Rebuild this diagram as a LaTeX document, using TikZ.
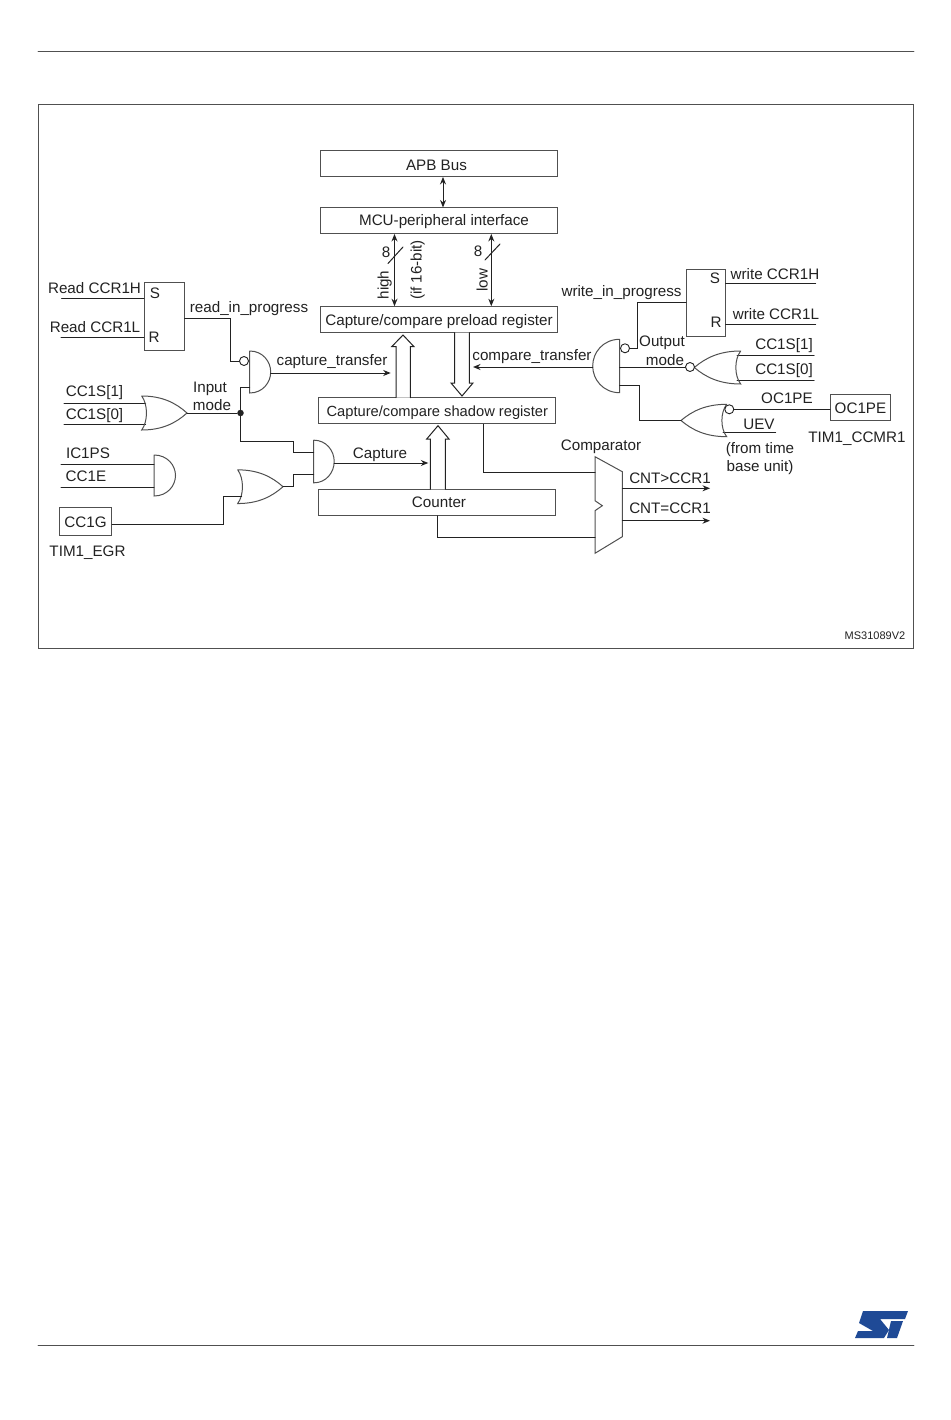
\documentclass[tikz,border=0pt]{standalone}
\usepackage{fontspec}
\setmainfont{Liberation Sans}
\usetikzlibrary{arrows.meta}
\definecolor{ink}{HTML}{222222}
\definecolor{edge}{HTML}{505050}
\definecolor{stblue}{HTML}{1F4A96}
\tikzset{
  box/.style={draw=edge,line width=1pt,inner sep=0pt,text=ink,text height=12pt,text depth=0pt},
  lbl/.style={inner sep=0pt,text=ink,text height=11pt,text depth=0pt},
  wire/.style={draw=ink,line width=1pt},
  gateline/.style={draw=edge,line width=1pt},
  bubble/.style={circle,draw=ink,line width=0.9pt,fill=white,inner sep=0pt,minimum size=9pt},
  pics/andg/.style={code={
    \draw[gateline] (0,-0.5) -- (0,0.5) .. controls (0.62,0.5) and (1,0.25) .. (1,0) .. controls (1,-0.25) and (0.62,-0.5) .. (0,-0.5);
    \coordinate (-base) at (0,0);
    \coordinate (-out) at (1,0);
  }},
  pics/org/.style={code={
    \draw[gateline] (0,-0.5) .. controls (0.14,-0.25) and (0.14,0.25) .. (0,0.5) .. controls (0.45,0.5) and (0.75,0.3) .. (1,0) .. controls (0.75,-0.3) and (0.45,-0.5) .. (0,-0.5);
    \coordinate (-out) at (1,0);
  }},
}
\begin{document}
\begin{tikzpicture}[x=1pt,y=-1pt,>={Stealth[length=7.5pt,width=6pt]},font=\fontsize{15.2}{18}\selectfont,line cap=round]
\useasboundingbox (0,0) rectangle (950,1420);
\fill[white] (0,0) rectangle (950,1420);
\draw[edge,line width=0.9pt] (38,51) -- (914,51);
\draw[edge,line width=0.9pt] (38,1345) -- (914,1345);
\draw[edge,line width=1pt] (38.5,105) rectangle (913,648);
\node[lbl,font=\fontsize{11}{13}\selectfont,text height=8pt] (drawno) at (875,635) {MS31089V2};
\fill[stblue] (863,1311) -- (908,1311) -- (905,1319) -- (880,1319) -- (889,1330) -- (884,1338) -- (855,1338) -- (858,1331) -- (873,1331) -- (859,1323) -- cycle;
\fill[stblue] (891,1321) -- (903,1321) -- (897,1338) -- (887,1338) -- cycle;
% register column
\node[box,minimum width=237pt,minimum height=25.5pt] (apb) at (439,163.7) {};
\node[lbl] (apbtxt) at (436.5,165) {APB Bus};
\node[box,minimum width=237pt,minimum height=25.5pt] (mcu) at (439,220.7) {};
\node[lbl] (mcutxt) at (444,220) {MCU-peripheral interface};
\node[box,minimum width=237pt,minimum height=26pt] (preload) at (439,319.7) {Capture/compare preload register};
\node[box,minimum width=237.3pt,minimum height=26.3pt,font=\fontsize{14.7}{18}\selectfont] (shadow) at (437.3,410.8) {Capture/compare shadow register};
\node[box,minimum width=237.3pt,minimum height=26pt] (counter) at (437.3,502.3) {};
\node[lbl] (countertxt) at (439,502) {Counter};
\coordinate (apbx) at (443,0);
\coordinate (highx) at (394.5,0);
\coordinate (lowx) at (491.3,0);
\draw[wire,<->] (apb.south -| apbx) -- (mcu.north -| apbx);
\draw[wire,<->] (mcu.south -| highx) -- (preload.north -| highx);
\draw[wire,<->] (mcu.south -| lowx) -- (preload.north -| lowx);
\draw[wire] (388,263.5) -- (403,247);
\draw[wire] (485,260) -- (500,244);
\node[lbl] (eighthigh) at (386,252) {8};
\node[lbl] (eightlow) at (478,251) {8};
\node[lbl,rotate=90] (high) at (383,285) {high};
\node[lbl,rotate=90] (ifbit) at (416,270) {(if 16-bit)};
\node[lbl,rotate=90] (low) at (482,280) {low};
\draw[wire,fill=white] (396,397.7) -- (396,346.7) -- (391.7,346.7) -- (403,335) -- (414,346.7) -- (410.3,346.7) -- (410.3,397.7);
\draw[wire,fill=white] (454.7,332.7) -- (454.7,383) -- (451,383) -- (462,396) -- (473,383) -- (469.3,383) -- (469.3,332.7);
\draw[wire,fill=white] (430.3,489.3) -- (430.3,439) -- (426.7,439) -- (438,425.7) -- (449,439) -- (445.3,439) -- (445.3,489.3);
% read side
\node[box,minimum width=39.7pt,minimum height=67pt] (srread) at (164.2,316.5) {};
\node[lbl] (sread) at (155,293) {S};
\node[lbl] (rread) at (154,337) {R};
\coordinate (rdh) at (61.7,299);
\coordinate (rdl) at (61,337);
\draw[wire] (rdh) -- (rdh -| srread.west);
\draw[wire] (rdl) -- (rdl -| srread.west);
\node[lbl] (rdhtxt) at (94.5,288) {Read CCR1H};
\node[lbl] (rdltxt) at (95,327) {Read CCR1L};
\node[lbl] (riptxt) at (249,307) {read\_in\_progress};
\pic[xscale=21,yscale=42] (gatecap) at (249.7,372) {andg};
\coordinate (ripv) at (230,318);
\node[bubble] (bubcap) at (244,361) {};
\draw[wire] (srread.east |- ripv) -- (ripv) |- (bubcap.west);
\coordinate (capend) at (390.7,373);
\draw[wire,->] (gatecap-out |- capend) -- (capend);
\node[lbl] (captxt) at (332,360) {capture\_transfer};
% input mode
\coordinate (cc1a) at (64,403);
\coordinate (cc0a) at (64,424);
\draw[wire] (cc1a) -- (145.7,403);
\draw[wire] (cc0a) -- (145.7,424);
\pic[xscale=45.3,yscale=34] (gateinmode) at (141.7,413) {org};
\node[lbl] (cc1atxt) at (94.5,391) {CC1S[1]};
\node[lbl] (cc0atxt) at (94.5,414) {CC1S[0]};
\node[lbl] (intxta) at (210,387) {Input};
\node[lbl] (intxtb) at (212,405) {mode};
\node[circle,fill=ink,inner sep=0pt,minimum size=6.5pt] (jct) at (240.5,413) {};
\draw[wire] (gateinmode-out) -- (jct);
\coordinate (jcttop) at (249.7,387);
\draw[wire] (jct) |- (jcttop);
% capture
\pic[xscale=20.5,yscale=42.7] (gatecapt) at (313.7,461.5) {andg};
\pic[xscale=45.3,yscale=33.7] (gateor) at (237.7,486.7) {org};
\pic[xscale=21.5,yscale=41] (gateic) at (154,475.5) {andg};
\coordinate (ica) at (61,464);
\coordinate (ccea) at (61,487);
\draw[wire] (ica) -- (ica -| gateic-base);
\draw[wire] (ccea) -- (ccea -| gateic-base);
\node[lbl] (icatxt) at (88,453) {IC1PS};
\node[lbl] (ccetxt) at (86,476) {CC1E};
\coordinate (capv) at (293.5,441);
\coordinate (capa) at (313.7,452);
\coordinate (capb) at (313.7,474);
\coordinate (orv) at (293.5,486.7);
\draw[wire] (jct) |- (capv) |- (capa);
\draw[wire] (gateor-out) -- (orv) |- (capb);
\node[box,minimum width=52.4pt,minimum height=27.7pt] (cc1g) at (85.5,521.8) {CC1G};
\node[lbl] (egrtxt) at (87.5,551) {TIM1\_EGR};
\coordinate (cgv) at (223.7,524.3);
\coordinate (orb) at (241.7,496);
\draw[wire] (cc1g.east |- cgv) -- (cgv) |- (orb);
\coordinate (captend) at (428.3,463);
\draw[wire,->] (gatecapt-out |- captend) -- (captend);
\node[lbl] (capturetxt) at (380,453) {Capture};
% comparator
\draw[gateline] (595,456.7) -- (622.3,471.7) -- (622.3,536.7) -- (595,553.3) -- (595,510.7) -- (602.3,505.7) -- (595,500.7) -- cycle;
\node[lbl] (cmptxt) at (601,445) {Comparator};
\coordinate (cmpa) at (595,472.3);
\coordinate (cmpb) at (595,537.3);
\coordinate (shx) at (483.7,0);
\draw[wire] (shadow.south -| shx) |- (cmpa);
\draw[wire] (counter.south) |- (cmpb);
\coordinate (gtend) at (710,488.3);
\coordinate (eqend) at (710,520.7);
\draw[wire,->] (622.3,488.3) -- (gtend);
\draw[wire,->] (622.3,520.7) -- (eqend);
\node[lbl] (gttxt) at (670,478) {CNT>CCR1};
\node[lbl] (eqtxt) at (670,508) {CNT=CCR1};
% write side
\node[box,minimum width=38.3pt,minimum height=67.4pt] (srwrite) at (705.85,303) {};
\node[lbl] (swrite) at (715,278) {S};
\node[lbl] (rwrite) at (716,322) {R};
\coordinate (wrh) at (815.7,284);
\coordinate (wrl) at (815.7,324);
\draw[wire] (wrh -| srwrite.east) -- (wrh);
\draw[wire] (wrl -| srwrite.east) -- (wrl);
\node[lbl] (wrhtxt) at (775,274) {write CCR1H};
\node[lbl] (wrltxt) at (776,314) {write CCR1L};
\node[lbl] (wiptxt) at (621.5,291) {write\_in\_progress};
\pic[xscale=-27,yscale=53.4] (gatecmp) at (619.7,366) {andg};
\coordinate (wipv) at (637.7,302.7);
\node[bubble] (bubcmp) at (625,348.3) {};
\draw[wire] (srwrite.west |- wipv) -- (wipv) |- (bubcmp.east);
\coordinate (cmpend) at (473,367);
\draw[wire,->] (gatecmp-out |- cmpend) -- (cmpend);
\node[lbl] (cmptrtxt) at (532,355) {compare\_transfer};
\coordinate (cc1b) at (814,355.7);
\coordinate (cc0b) at (814,380);
\draw[wire] (cc1b) -- (737,355.7);
\draw[wire] (cc0b) -- (737,380);
\pic[xscale=-46.4,yscale=33] (gateoutmode) at (740.7,367.5) {org};
\node[bubble] (bubnor) at (690,367) {};
\draw[wire] (gatecmp-base |- bubnor) -- (bubnor.west);
\node[lbl] (outtxta) at (662,341) {Output};
\node[lbl] (outtxtb) at (665,360) {mode};
\node[lbl] (cc1btxt) at (784,344) {CC1S[1]};
\node[lbl] (cc0btxt) at (784,369) {CC1S[0]};
\coordinate (uev) at (775.7,432.3);
\draw[wire] (723,432.3) -- (uev);
\pic[xscale=-45.7,yscale=32.4] (gateupd) at (726.7,420.5) {org};
\node[bubble] (bubor) at (729.3,409.3) {};
\node[box,minimum width=59.7pt,minimum height=26.4pt] (ocpe) at (860.5,407.5) {OC1PE};
\draw[wire] (bubor.east) -- (bubor.east -| ocpe.west);
\coordinate (updv) at (639.3,385);
\draw[wire] (gatecmp-base |- updv) -- (updv) |- (gateupd-out);
\node[lbl] (ocpetxt) at (787,398) {OC1PE};
\node[lbl] (uevtxt) at (759,424) {UEV};
\node[lbl] (fromtxt) at (760,448) {(from time};
\node[lbl] (basetxt) at (760,466) {base unit)};
\node[lbl] (ccmrtxt) at (857,437) {TIM1\_CCMR1};
\end{tikzpicture}
\end{document}
